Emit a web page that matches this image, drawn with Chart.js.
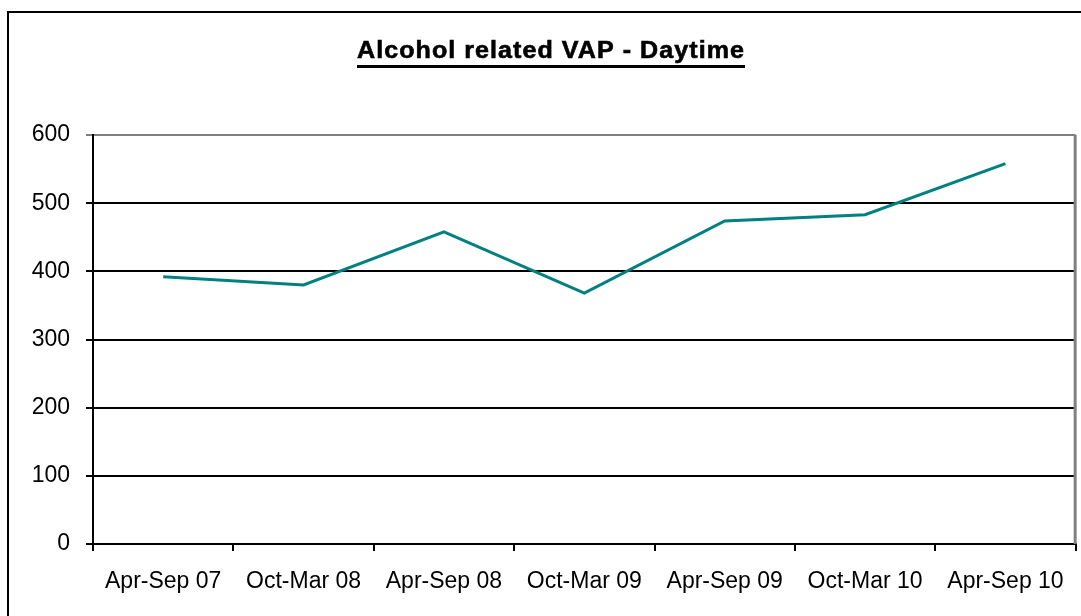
<!DOCTYPE html>
<html>
<head>
<meta charset="utf-8">
<script src="https://cdn.jsdelivr.net/npm/chart.js@4/dist/chart.umd.min.js"></script>
<style>
  html, body { margin: 0; padding: 0; background: #fff; overflow: hidden; }
  #frame {
    position: absolute; left: 7px; top: 11px; width: 1200px; height: 800px;
    border-left: 2px solid #000; border-top: 2px solid #000;
  }
  #chart { position: absolute; left: 0; top: 0; }
</style>
</head>
<body>
<div id="frame"></div>
<canvas id="chart" width="1081" height="616"></canvas>
<script>
const chartTitle = 'Alcohol related VAP - Daytime';
const periods = ['Apr-Sep 07', 'Oct-Mar 08', 'Apr-Sep 08', 'Oct-Mar 09', 'Apr-Sep 09', 'Oct-Mar 10', 'Apr-Sep 10'];
const vapDaytime = [392, 380, 458, 368, 474, 483, 558];
const yMin = 0;
const yMax = 600;
const yStep = 100;

const labelFont = { family: '"Liberation Sans", Arial, sans-serif', size: 23 };

// underlined bold title + grey right edge of plot area, like the excel chart
const excelBits = {
  id: 'excelBits',
  afterDraw(chart) {
    const ctx = chart.ctx;
    const area = chart.chartArea;

    ctx.save();
    ctx.strokeStyle = '#808080';
    ctx.lineWidth = 3;
    ctx.beginPath();
    ctx.moveTo(area.right - 0.5, area.top);
    ctx.lineTo(area.right - 0.5, area.bottom);
    ctx.stroke();
    ctx.restore();

    const cx = 551, baseline = 58, targetWidth = 388;
    ctx.save();
    ctx.font = 'bold 24px "Liberation Sans", Arial, sans-serif';
    if ('letterSpacing' in ctx) ctx.letterSpacing = '1px';
    const w = ctx.measureText(chartTitle).width;
    const sx = targetWidth / w;
    ctx.translate(cx, baseline);
    ctx.scale(sx, 1);
    ctx.fillStyle = '#000';
    ctx.strokeStyle = '#000';
    ctx.lineWidth = 0.6;
    ctx.textAlign = 'center';
    ctx.textBaseline = 'alphabetic';
    ctx.fillText(chartTitle, 0, 0);
    ctx.strokeText(chartTitle, 0, 0);
    ctx.restore();

    ctx.save();
    ctx.fillStyle = '#000';
    ctx.fillRect(cx - targetWidth / 2, 65, targetWidth, 3);
    ctx.restore();
  }
};

new Chart(document.getElementById('chart'), {
  type: 'line',
  data: {
    labels: periods,
    datasets: [
      {
        label: chartTitle,
        data: vapDaytime,
        borderColor: '#008080',
        borderWidth: 3,
        pointRadius: 0,
        fill: false,
        tension: 0,
      },
    ],
  },
  options: {
    responsive: false,
    animation: false,
    devicePixelRatio: 1,
    layout: { padding: { left: 0, right: 5, top: 135, bottom: 0 } },
    plugins: {
      legend: { display: false },
      title: { display: false },
      tooltip: { enabled: false },
    },
    scales: {
      x: {
        offset: true,
        grid: {
          offset: true,
          drawOnChartArea: false,
          color: '#000',
          lineWidth: 2,
          tickLength: 7,
        },
        border: { color: '#000', width: 2 },
        ticks: { color: '#000', font: labelFont, padding: 17, maxRotation: 0, autoSkip: false },
        afterFit(scale) { scale.height = 72; },
      },
      y: {
        min: yMin,
        max: yMax,
        grid: {
          color: (c) => (c.tick && c.tick.value === yMax ? '#808080' : '#000'),
          lineWidth: 2,
          tickLength: 7,
        },
        border: { color: '#000', width: 2 },
        ticks: { stepSize: yStep, color: '#000', font: labelFont, padding: 16 },
        afterFit(scale) { scale.width = 93; },
      },
    },
  },
  plugins: [excelBits],
});
</script>
</body>
</html>
